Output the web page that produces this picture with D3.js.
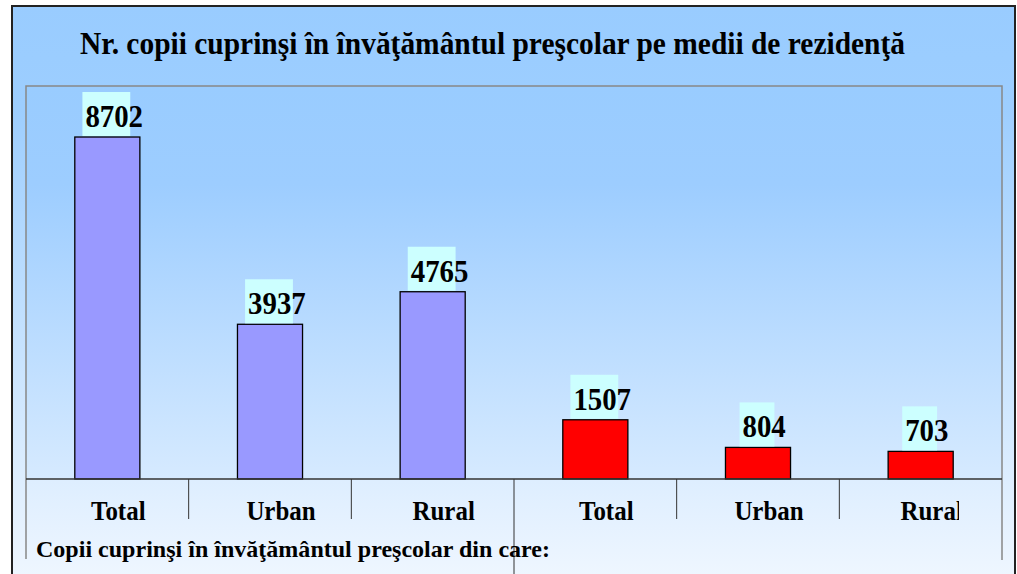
<!DOCTYPE html>
<html>
<head>
<meta charset="utf-8">
<script src="https://cdn.jsdelivr.net/npm/d3@7/dist/d3.min.js"></script>
<style>
  html, body { margin: 0; padding: 0; background: #ffffff; }
  svg { display: block; }
</style>
</head>
<body>
<svg id="chart" width="1017" height="574"></svg>
<script>
// ---- data ----
const title = "Nr. copii cuprinşi în învăţământul preşcolar pe medii de rezidenţă";
const subtitle = "Copii cuprinşi în învăţământul preşcolar din care:";
const categories = ["Total", "Urban", "Rural", "Total", "Urban", "Rural"];
const values = [8702, 3937, 4765, 1507, 804, 703];
const seriesGroup = ["copii", "copii", "copii", "alt", "alt", "alt"];
const groupColors = { copii: "#9999ff", alt: "#ff0000" };
const yDomain = [0, 10000];

// ---- layout ----
const W = 1017, H = 574;
const plot = { left: 26, right: 1002, top: 86, bottom: 479 };
const font = "'Liberation Serif', 'Times New Roman', serif";

const svg = d3.select("#chart");
const defs = svg.append("defs");

const gOuter = defs.append("linearGradient").attr("id", "gOuter")
  .attr("gradientUnits", "userSpaceOnUse").attr("x1", 0).attr("y1", 6).attr("x2", 0).attr("y2", 574);
gOuter.append("stop").attr("offset", 0).attr("stop-color", "#99ccff");
gOuter.append("stop").attr("offset", 0.18).attr("stop-color", "#9dceff");
gOuter.append("stop").attr("offset", 1).attr("stop-color", "#eef6ff");

const gPlot = defs.append("linearGradient").attr("id", "gPlot")
  .attr("gradientUnits", "userSpaceOnUse").attr("x1", 0).attr("y1", plot.top).attr("x2", 0).attr("y2", plot.bottom);
gPlot.append("stop").attr("offset", 0).attr("stop-color", "#99ccff");
gPlot.append("stop").attr("offset", 0.25).attr("stop-color", "#9dcdff");
gPlot.append("stop").attr("offset", 1).attr("stop-color", "#d6eaff");

defs.append("clipPath").attr("id", "catClip")
  .append("rect").attr("x", 0).attr("y", 0).attr("width", 959).attr("height", H);

// narrow (vertically taller) text helper: render at a larger size, squeeze horizontally
function narrow(sel, squeeze) {
  sel.each(function () {
    const len = this.getComputedTextLength();
    d3.select(this).attr("textLength", len * squeeze).attr("lengthAdjust", "spacingAndGlyphs");
  });
}

// outer frame
svg.append("rect").attr("x", 12).attr("y", 6).attr("width", 1003).attr("height", 580)
  .attr("fill", "url(#gOuter)").attr("stroke", "#222").attr("stroke-width", 2);

// plot area
svg.append("rect").attr("x", plot.left).attr("y", plot.top)
  .attr("width", plot.right - plot.left).attr("height", plot.bottom - plot.top)
  .attr("fill", "url(#gPlot)").attr("stroke", "none");
svg.append("path")
  .attr("d", `M${plot.left},559 V${plot.top} H${plot.right} V560`)
  .attr("fill", "none").attr("stroke", "#888").attr("stroke-width", 1.5);

// scales
const idx = d3.range(categories.length);
const xSlot = d3.scaleBand().domain(idx).range([plot.left, plot.right]).padding(0);
const xBar = d3.scaleBand().domain(idx).range([plot.left, plot.right]).paddingInner(0.6).paddingOuter(0.3);
const y = d3.scaleLinear().domain(yDomain).range([plot.bottom, plot.top]);

// bars
svg.append("g").selectAll("rect").data(idx).join("rect")
  .attr("x", i => xBar(i))
  .attr("y", i => y(values[i]))
  .attr("width", xBar.bandwidth())
  .attr("height", i => y(0) - y(values[i]))
  .attr("fill", i => groupColors[seriesGroup[i]])
  .attr("stroke", "#000").attr("stroke-width", 1.3);

// value labels with background boxes
const lbl = svg.append("g");
idx.forEach(i => {
  const cx = xBar(i) + xBar.bandwidth() / 2;
  const top = y(values[i]);
  const bg = lbl.append("rect").attr("fill", "#ccffff");
  const t = lbl.append("text")
    .attr("font-family", font).attr("font-weight", "bold").attr("font-size", 32)
    .attr("fill", "#000").attr("y", top - 10)
    .text(values[i]);
  narrow(t, 0.9);
  const tw = t.node().getComputedTextLength() * 0.9;
  const rw = tw - 4;
  const rx = cx - 1 - rw / 2;
  bg.attr("x", rx).attr("y", top - 45).attr("width", rw).attr("height", 44);
  t.attr("x", rx + 3);
});

// axis line
svg.append("line").attr("x1", plot.left).attr("x2", plot.right)
  .attr("y1", plot.bottom).attr("y2", plot.bottom)
  .attr("stroke", "#333").attr("stroke-width", 1.5);

// category dividers
svg.append("g").selectAll("line").data(idx.slice(1)).join("line")
  .attr("x1", i => xSlot(i)).attr("x2", i => xSlot(i))
  .attr("y1", plot.bottom).attr("y2", i => i === 3 ? 574 : 519)
  .attr("stroke", "#333").attr("stroke-width", 1);

// category labels
const cats = svg.append("g").attr("clip-path", "url(#catClip)")
  .selectAll("text").data(idx).join("text")
  .attr("x", i => xSlot(i) + xSlot.bandwidth() / 2 + 11)
  .attr("y", 520)
  .attr("text-anchor", "middle")
  .attr("font-family", font).attr("font-weight", "bold").attr("font-size", 28)
  .attr("fill", "#000")
  .text(i => categories[i]);
narrow(cats, 0.89);

// subtitle
svg.append("text").attr("x", 36).attr("y", 557)
  .attr("font-family", font).attr("font-weight", "bold").attr("font-size", 24)
  .attr("textLength", 514).attr("lengthAdjust", "spacingAndGlyphs")
  .attr("fill", "#000").text(subtitle);

// title
svg.append("text").attr("x", 80).attr("y", 54)
  .attr("font-family", font).attr("font-weight", "bold").attr("font-size", 32)
  .attr("textLength", 825).attr("lengthAdjust", "spacingAndGlyphs")
  .attr("fill", "#000").text(title);
</script>
</body>
</html>
